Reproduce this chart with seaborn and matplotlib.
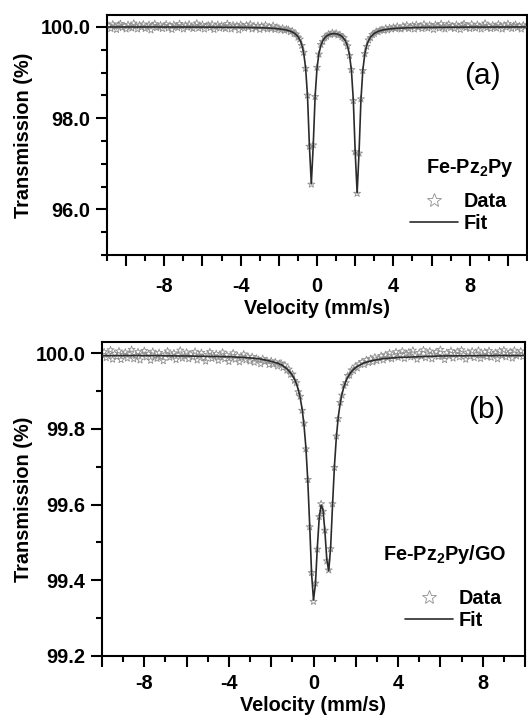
import matplotlib
matplotlib.use('Agg')
import matplotlib.pyplot as plt
from matplotlib.ticker import MultipleLocator, FuncFormatter
from matplotlib.lines import Line2D
import pandas as pd
import seaborn as sns

# ---------------- panel (a): Fe-Pz2Py ----------------
vel_a_left = [-10.9, -10.8, -10.7, -10.6, -10.5, -10.4, -10.3, -10.2, -10.1, -10.0,
              -9.9, -9.8, -9.7, -9.6, -9.5, -9.4, -9.3, -9.2, -9.1, -9.0,
              -8.9, -8.8, -8.7, -8.6, -8.5, -8.4, -8.3, -8.2, -8.1, -8.0,
              -7.9, -7.8, -7.7, -7.6, -7.5, -7.4, -7.3, -7.2, -7.1, -7.0,
              -6.9, -6.8, -6.7, -6.6, -6.5, -6.4, -6.3, -6.2, -6.1, -6.0,
              -5.9, -5.8, -5.7, -5.6, -5.5, -5.4, -5.3, -5.2, -5.1, -5.0,
              -4.9, -4.8, -4.7, -4.6, -4.5, -4.4, -4.3, -4.2, -4.1, -4.0,
              -3.9, -3.8, -3.7, -3.6, -3.5, -3.4, -3.3, -3.2, -3.1, -3.0,
              -2.9, -2.8, -2.7, -2.6, -2.5, -2.4, -2.3, -2.2, -2.1, -2.0,
              -1.9, -1.8, -1.7, -1.6]
trans_a_left = [100.03, 99.96, 100.06, 100.01, 99.94, 100.04, 100.07, 99.98, 100.02, 99.95,
                100.05, 100.00, 99.97, 100.08, 100.02, 99.95, 100.04, 99.99, 100.06, 99.96,
                100.01, 100.05, 99.93, 100.03, 100.07, 99.98, 100.00, 100.04, 99.96, 100.02,
                100.06, 99.97, 100.03, 99.94, 100.05, 100.01, 99.98, 100.07, 100.02, 99.95,
                100.04, 99.99, 100.06, 100.00, 99.96, 100.03, 100.08, 99.97, 100.01, 100.05,
                99.95, 100.02, 100.04, 99.98, 100.06, 99.94, 100.01, 100.05, 99.97, 100.03,
                100.00, 99.96, 100.07, 100.02, 99.95, 100.04, 99.99, 100.03, 99.93, 100.05,
                100.01, 99.97, 100.04, 99.99, 100.06, 99.95, 100.02, 99.98, 100.03, 99.94,
                100.02, 99.97, 100.04, 99.95, 100.00, 99.96, 100.03, 99.94, 99.99, 99.97,
                99.93, 99.97, 99.92, 99.95]

vel_a_core = [-1.5, -1.4, -1.3, -1.2, -1.1, -1.0, -0.9, -0.8, -0.7, -0.6,
              -0.5, -0.4, -0.3, -0.2, -0.1, 0.0, 0.1, 0.2, 0.3, 0.4,
              0.5, 0.6, 0.7, 0.8, 0.9, 1.0, 1.1, 1.2, 1.3, 1.4,
              1.5, 1.6, 1.7, 1.8, 1.9, 2.0, 2.1, 2.2, 2.3, 2.4,
              2.5, 2.6, 2.7, 2.8, 2.9, 3.0, 3.1, 3.2, 3.3]
trans_a_core = [99.94, 99.89, 99.91, 99.85, 99.84, 99.77, 99.73, 99.59, 99.44, 99.09,
                98.50, 97.38, 96.55, 97.41, 98.47, 99.11, 99.40, 99.61, 99.68, 99.77,
                99.79, 99.84, 99.83, 99.87, 99.84, 99.86, 99.82, 99.83, 99.78, 99.76,
                99.67, 99.58, 99.37, 99.06, 98.38, 97.26, 96.35, 97.23, 98.42, 99.04,
                99.41, 99.57, 99.71, 99.76, 99.83, 99.85, 99.90, 99.89, 99.93]
fit_a_core = [99.919, 99.905, 99.888, 99.864, 99.831, 99.785, 99.716, 99.609, 99.430, 99.108,
              98.490, 97.396, 96.561, 97.393, 98.484, 99.099, 99.417, 99.592, 99.694, 99.758,
              99.799, 99.825, 99.841, 99.849, 99.852, 99.848, 99.838, 99.820, 99.792, 99.748,
              99.681, 99.572, 99.386, 99.049, 98.398, 97.243, 96.362, 97.246, 98.404, 99.058,
              99.399, 99.588, 99.701, 99.774, 99.822, 99.857, 99.882, 99.901, 99.916]

vel_a_right = [3.4, 3.5, 3.6, 3.7, 3.8, 3.9, 4.0, 4.1, 4.2, 4.3,
               4.4, 4.5, 4.6, 4.7, 4.8, 4.9, 5.0, 5.1, 5.2, 5.3,
               5.4, 5.5, 5.6, 5.7, 5.8, 5.9, 6.0, 6.1, 6.2, 6.3,
               6.4, 6.5, 6.6, 6.7, 6.8, 6.9, 7.0, 7.1, 7.2, 7.3,
               7.4, 7.5, 7.6, 7.7, 7.8, 7.9, 8.0, 8.1, 8.2, 8.3,
               8.4, 8.5, 8.6, 8.7, 8.8, 8.9, 9.0, 9.1, 9.2, 9.3,
               9.4, 9.5, 9.6, 9.7, 9.8, 9.9, 10.0, 10.1, 10.2, 10.3,
               10.4, 10.5, 10.6, 10.7, 10.8, 10.9]
trans_a_right = [99.94, 99.92, 99.97, 99.93, 99.98, 99.95, 99.99, 99.96, 100.01, 99.97,
                 99.95, 100.02, 99.98, 100.04, 99.96, 100.00, 100.03, 99.95, 100.05, 99.99,
                 100.02, 99.96, 100.06, 100.00, 99.97, 100.04, 100.01, 99.94, 100.05, 100.02,
                 99.97, 100.07, 100.00, 99.95, 100.03, 100.06, 99.98, 100.02, 99.96, 100.05,
                 100.01, 99.94, 100.04, 100.07, 99.98, 100.02, 99.96, 100.06, 100.00, 99.97,
                 100.05, 100.01, 99.95, 100.03, 100.08, 99.98, 100.02, 99.96, 100.04, 100.00,
                 99.97, 100.06, 100.02, 99.95, 100.04, 99.99, 100.07, 100.01, 99.96, 100.03,
                 100.05, 99.98, 100.02, 99.95, 100.04, 100.00]

fit_vel_a_left = [-11.0, -8.0, -6.0, -4.0, -3.0, -2.5, -2.0, -1.8, -1.6]
fit_a_left = [99.998, 99.997, 99.995, 99.989, 99.981, 99.973, 99.957, 99.946, 99.930]
fit_vel_a_right = [3.5, 3.8, 4.2, 5.0, 6.0, 8.0, 11.0]
fit_a_right = [99.936, 99.955, 99.969, 99.983, 99.990, 99.995, 99.998]

# ---------------- panel (b): Fe-Pz2Py/GO ----------------
vel_b_left = [-9.9, -9.8, -9.7, -9.6, -9.5, -9.4, -9.3, -9.2, -9.1, -9.0,
              -8.9, -8.8, -8.7, -8.6, -8.5, -8.4, -8.3, -8.2, -8.1, -8.0,
              -7.9, -7.8, -7.7, -7.6, -7.5, -7.4, -7.3, -7.2, -7.1, -7.0,
              -6.9, -6.8, -6.7, -6.6, -6.5, -6.4, -6.3, -6.2, -6.1, -6.0,
              -5.9, -5.8, -5.7, -5.6, -5.5, -5.4, -5.3, -5.2, -5.1, -5.0,
              -4.9, -4.8, -4.7, -4.6, -4.5, -4.4, -4.3, -4.2, -4.1, -4.0,
              -3.9, -3.8, -3.7, -3.6, -3.5, -3.4, -3.3, -3.2, -3.1, -3.0,
              -2.9, -2.8, -2.7, -2.6, -2.5, -2.4, -2.3, -2.2, -2.1, -2.0,
              -1.9, -1.8, -1.7, -1.6]
trans_b_left = [100.004, 99.988, 99.997, 100.009, 99.984, 99.999, 99.991, 100.006, 99.983, 99.996,
                100.003, 99.987, 99.998, 100.010, 99.985, 99.994, 100.004, 99.982, 99.997, 100.007,
                99.990, 99.999, 99.981, 100.005, 99.993, 99.986, 100.002, 99.991, 99.980, 99.998,
                100.006, 99.989, 99.995, 100.001, 99.983, 99.996, 100.008, 99.987, 99.993, 100.003,
                99.985, 99.998, 99.990, 100.005, 99.982, 99.994, 100.002, 99.988, 99.979, 99.997,
                100.004, 99.986, 99.993, 99.999, 99.981, 99.992, 100.003, 99.985, 99.996, 99.978,
                99.990, 100.001, 99.984, 99.994, 99.977, 99.989, 99.998, 99.982, 99.992, 99.979,
                99.991, 99.976, 99.987, 99.983, 99.972, 99.986, 99.978, 99.981, 99.970, 99.980,
                99.971, 99.977, 99.966, 99.973]

vel_b_core = [-1.53, -1.44, -1.35, -1.26, -1.17, -1.08, -0.99, -0.90, -0.81, -0.72,
              -0.63, -0.54, -0.45, -0.36, -0.27, -0.18, -0.09, 0.00, 0.09, 0.18,
              0.27, 0.36, 0.45, 0.54, 0.63, 0.72, 0.81, 0.90, 0.99, 1.08,
              1.17, 1.26, 1.35, 1.44, 1.53, 1.62, 1.71, 1.80, 1.89, 1.98,
              2.07, 2.16]
trans_b_core = [99.974, 99.962, 99.969, 99.955, 99.958, 99.944, 99.945, 99.928, 99.922, 99.898,
                99.886, 99.849, 99.815, 99.747, 99.666, 99.541, 99.420, 99.344, 99.392, 99.482,
                99.568, 99.602, 99.582, 99.532, 99.451, 99.427, 99.483, 99.602, 99.698, 99.781,
                99.827, 99.870, 99.889, 99.915, 99.922, 99.941, 99.942, 99.956, 99.954, 99.966,
                99.961, 99.972]
fit_b_core = [99.970, 99.967, 99.963, 99.959, 99.954, 99.948, 99.941, 99.932, 99.920, 99.904,
              99.883, 99.853, 99.811, 99.751, 99.663, 99.545, 99.417, 99.348, 99.389, 99.486,
              99.565, 99.599, 99.586, 99.529, 99.454, 99.425, 99.487, 99.599, 99.702, 99.778,
              99.831, 99.867, 99.893, 99.912, 99.926, 99.937, 99.945, 99.952, 99.957, 99.962,
              99.965, 99.968]

vel_b_right = [2.3, 2.4, 2.5, 2.6, 2.7, 2.8, 2.9, 3.0, 3.1, 3.2,
               3.3, 3.4, 3.5, 3.6, 3.7, 3.8, 3.9, 4.0, 4.1, 4.2,
               4.3, 4.4, 4.5, 4.6, 4.7, 4.8, 4.9, 5.0, 5.1, 5.2,
               5.3, 5.4, 5.5, 5.6, 5.7, 5.8, 5.9, 6.0, 6.1, 6.2,
               6.3, 6.4, 6.5, 6.6, 6.7, 6.8, 6.9, 7.0, 7.1, 7.2,
               7.3, 7.4, 7.5, 7.6, 7.7, 7.8, 7.9, 8.0, 8.1, 8.2,
               8.3, 8.4, 8.5, 8.6, 8.7, 8.8, 8.9, 9.0, 9.1, 9.2,
               9.3, 9.4, 9.5, 9.6, 9.7, 9.8, 9.9]
trans_b_right = [99.978, 99.970, 99.983, 99.975, 99.986, 99.977, 99.990, 99.980, 99.987, 99.994,
                 99.982, 99.996, 99.988, 100.001, 99.985, 99.993, 100.004, 99.989, 99.997, 100.006,
                 99.986, 99.999, 100.003, 99.990, 100.008, 99.995, 99.984, 100.002, 99.992, 100.009,
                 99.988, 100.000, 100.006, 99.985, 99.997, 100.004, 99.991, 100.010, 99.994, 99.983,
                 100.002, 99.993, 100.007, 99.987, 99.999, 100.005, 99.990, 100.009, 99.996, 99.984,
                 100.003, 99.992, 100.006, 99.988, 99.998, 100.008, 99.986, 99.995, 100.004, 99.991,
                 100.007, 99.989, 99.997, 100.002, 99.985, 100.006, 99.994, 100.009, 99.990, 99.999,
                 100.004, 99.987, 100.008, 99.993, 99.999, 100.006, 99.991]

fit_vel_b_left = [-10.0, -8.0, -6.0, -4.0, -3.0, -2.5, -2.0, -1.7]
fit_b_left = [99.994, 99.994, 99.993, 99.991, 99.988, 99.985, 99.979, 99.974]
fit_vel_b_right = [2.4, 2.8, 3.3, 4.0, 5.0, 6.0, 8.0, 10.0]
fit_b_right = [99.975, 99.981, 99.986, 99.989, 99.991, 99.993, 99.994, 99.994]

data_a = pd.DataFrame({'v': vel_a_left + vel_a_core + vel_a_right,
                       'T': trans_a_left + trans_a_core + trans_a_right})
fit_a = pd.DataFrame({'v': fit_vel_a_left + vel_a_core + fit_vel_a_right,
                      'T': fit_a_left + fit_a_core + fit_a_right})
data_b = pd.DataFrame({'v': vel_b_left + vel_b_core + vel_b_right,
                       'T': trans_b_left + trans_b_core + trans_b_right})
fit_b = pd.DataFrame({'v': fit_vel_b_left + vel_b_core + fit_vel_b_right,
                      'T': fit_b_left + fit_b_core + fit_b_right})

sns.set_theme(style='ticks')
plt.rcParams['font.family'] = ['Liberation Sans', 'DejaVu Sans']
plt.rcParams['font.weight'] = 'bold'
plt.rcParams['axes.labelweight'] = 'bold'
plt.rcParams['mathtext.fontset'] = 'custom'
plt.rcParams['mathtext.rm'] = 'Liberation Sans'
plt.rcParams['mathtext.bf'] = 'Liberation Sans:bold'
for key in ['text.color', 'axes.labelcolor', 'xtick.color', 'ytick.color',
            'xtick.labelcolor', 'ytick.labelcolor']:
    plt.rcParams[key] = 'black'

DATA_COL = '#8f8f8f'
FIT_COL = '#2b2b2b'
FS = 14.3

fig = plt.figure(figsize=(5.28, 7.18), dpi=100)
ax1 = fig.add_axes([0.2027, 0.6448, 0.7955, 0.3343])
ax2 = fig.add_axes([0.1932, 0.0864, 0.8011, 0.4373])


def xfmt(v, pos):
    iv = int(round(v))
    return str(iv) if iv % 4 == 0 else ''


def draw(ax, data, fit, xpad):
    sns.scatterplot(data=data, x='v', y='T', ax=ax, marker='*', s=28,
                    facecolors='none', edgecolor=DATA_COL, linewidth=0.6,
                    zorder=2, legend=False)
    sns.lineplot(data=fit, x='v', y='T', ax=ax, sort=False, estimator=None,
                 color=FIT_COL, linewidth=1.2, zorder=3, legend=False)
    ax.set_xlabel('Velocity (mm/s)', fontsize=FS, labelpad=2)
    ax.set_ylabel('Transmission (%)', fontsize=FS)
    ax.xaxis.set_major_locator(MultipleLocator(2))
    ax.xaxis.set_minor_locator(MultipleLocator(1))
    ax.xaxis.set_major_formatter(FuncFormatter(xfmt))
    ax.yaxis.set_major_formatter(FuncFormatter(lambda v, p: f'{v:.1f}'))
    ax.tick_params(which='major', direction='out', length=8, width=1.5,
                   labelsize=FS, color='black', labelcolor='black')
    ax.tick_params(which='minor', direction='out', length=4.5, width=1.5,
                   color='black')
    ax.tick_params(axis='x', which='major', pad=xpad)
    ax.tick_params(axis='y', which='major', pad=4)
    for sp in ax.spines.values():
        sp.set_visible(True)
        sp.set_linewidth(1.5)
        sp.set_color('black')
    handles = [Line2D([], [], marker='*', linestyle='none', markerfacecolor='none',
                      markeredgecolor=DATA_COL, markeredgewidth=0.6, markersize=10),
               Line2D([], [], color=FIT_COL, linewidth=1.2)]
    return handles


h = draw(ax1, data_a, fit_a, 8)
ax1.set_xlim(-11, 11)
ax1.set_ylim(95.0, 100.26)
ax1.yaxis.set_major_locator(MultipleLocator(2))
ax1.yaxis.set_minor_locator(MultipleLocator(0.5))
ax1.yaxis.set_label_coords(-0.176, 0.5)
ax1.text(8.67, 98.93, '(a)', fontsize=21.5, fontweight='normal', ha='center', va='center')
ax1.text(0.969, 0.342, r'Fe-Pz$_\mathbf{2}$Py', transform=ax1.transAxes,
         fontsize=FS, ha='right', va='baseline')
ax1.legend(h, ['Data', 'Fit'], loc='upper right', bbox_to_anchor=(0.952, 0.2625),
           frameon=False, fontsize=FS, handlelength=2.4, handletextpad=0.3,
           labelspacing=0.15, borderpad=0, borderaxespad=0)

h = draw(ax2, data_b, fit_b, 5)
ax2.set_xlim(-10, 10)
ax2.set_ylim(99.2, 100.03)
ax2.yaxis.set_major_locator(MultipleLocator(0.2))
ax2.yaxis.set_minor_locator(MultipleLocator(0.1))
ax2.yaxis.set_label_coords(-0.163, 0.5)
ax2.text(8.2, 99.85, '(b)', fontsize=21.5, fontweight='normal', ha='center', va='center')
ax2.text(0.957, 0.306, r'Fe-Pz$_\mathbf{2}$Py/GO', transform=ax2.transAxes,
         fontsize=FS, ha='right', va='baseline')
ax2.legend(h, ['Data', 'Fit'], loc='upper right', bbox_to_anchor=(0.946, 0.213),
           frameon=False, fontsize=FS, handlelength=2.4, handletextpad=0.3,
           labelspacing=0.15, borderpad=0, borderaxespad=0)

fig.savefig('out.png', dpi=100)
